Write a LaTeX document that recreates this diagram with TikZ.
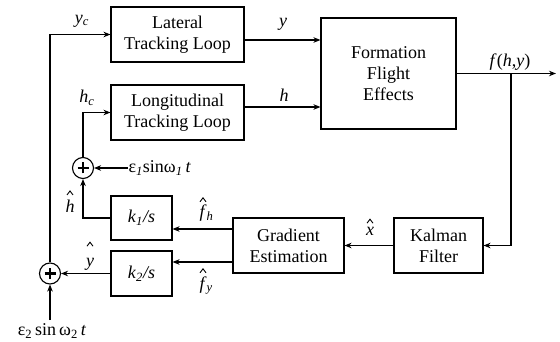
\documentclass[tikz,border=0pt]{standalone}
\usepackage{fontspec}
\setmainfont{Liberation Serif}
\usetikzlibrary{arrows.meta}
\begin{document}
\begin{tikzpicture}[x=1pt,y=-1pt, line width=1.1pt,
  >={Stealth[length=7pt,width=5.5pt]},
  box/.style={draw, align=center, inner sep=0pt, font=\fontsize{18}{21}\selectfont},
  sumnode/.style={draw, circle, minimum size=21pt, inner sep=0pt,
    path picture={\draw[line width=2.4pt]
      ([xshift=-5.5pt]path picture bounding box.center) -- ([xshift=5.5pt]path picture bounding box.center)
      ([yshift=-5.5pt]path picture bounding box.center) -- ([yshift=5.5pt]path picture bounding box.center);}},
  lbl/.style={font=\fontsize{18}{21}\selectfont, inner sep=0pt, align=center},
  hatline/.style={line width=0.9pt, line join=miter}]
\useasboundingbox (0,0) rectangle (560,342);
% blocks
\node[box, minimum width=133pt, minimum height=55pt] (lat) at (177.5,34.5) {Lateral\\Tracking Loop};
\node[box, minimum width=133pt, minimum height=55pt] (lon) at (177.5,112.5) {Longitudinal\\Tracking Loop};
\node[box, minimum width=135pt, minimum height=111pt] (ffe) at (388.5,73.5) {Formation\\Flight\\Effects};
\node[box, minimum width=89pt, minimum height=55pt] (kal) at (438.5,245.5) {Kalman\\Filter};
\node[box, minimum width=111pt, minimum height=55pt] (grad) at (288.5,245.5) {Gradient\\Estimation};
\node[box, minimum width=61pt, minimum height=44pt] (k1) at (141.5,218) {\textit{k}\textsubscript{\textit{1}}\textit{/s}};
\node[box, minimum width=61pt, minimum height=45pt] (k2) at (141.5,273.5) {\textit{k}\textsubscript{\textit{2}}\textit{/s}};
\node[sumnode] (s1) at (83,168) {};
\node[sumnode] (s2) at (50,273.5) {};
% signal labels
\node[lbl] (e1) [anchor=west] at (128,168) {ε\textsubscript{\textit{1}}sinω\textsubscript{\textit{1}}\,\textit{t}};
\node[lbl] (e2) [anchor=north, inner sep=3pt] at (52,320) {ε\textsubscript{2}\,sin\,ω\textsubscript{2}\,\textit{t}};
\node[lbl] (lyc) at (82,21) {\textit{y}\textsubscript{\textit{c}}};
\node[lbl] (lhc) at (87,98) {\textit{h}\textsubscript{\textit{c}}};
\node[lbl] (ly) at (283,24) {\textit{y}};
\node[lbl] (lh) at (284,95) {\textit{h}};
\node[lbl] (lf) at (510,62) {\textit{f}(\textit{h},\textit{y})};
% hatted labels (hat drawn as a small chevron)
\node[lbl, anchor=base] (lx) at (370,235) {\textit{x}};
\node[lbl, anchor=base] (lhh) at (70,212) {\textit{h}};
\node[lbl, anchor=base] (lyh) at (90,266) {\textit{y}};
\node[lbl, anchor=base west] (lfh) at (199,218) {\textit{f}\textsubscript{\textit{h}}};
\node[lbl, anchor=base west] (lfy) at (199,289) {\textit{f}\textsubscript{\textit{y}}};
\draw[hatline] ([xshift=-3pt,yshift=3pt]lx.north) -- ([yshift=7pt]lx.north) -- ([xshift=3pt,yshift=3pt]lx.north);
\draw[hatline] ([xshift=-3pt,yshift=4pt]lhh.north) -- ([yshift=8pt]lhh.north) -- ([xshift=3pt,yshift=4pt]lhh.north);
\draw[hatline] ([xshift=-3pt,yshift=11pt]lyh.north) -- ([yshift=15pt]lyh.north) -- ([xshift=3pt,yshift=11pt]lyh.north);
\draw[hatline] ([xshift=1pt,yshift=3pt]lfh.north west) -- ([xshift=4pt,yshift=7pt]lfh.north west) -- ([xshift=7pt,yshift=3pt]lfh.north west);
\draw[hatline] ([xshift=1pt,yshift=3pt]lfy.north west) -- ([xshift=4pt,yshift=7pt]lfy.north west) -- ([xshift=7pt,yshift=3pt]lfy.north west);
% connectors
\coordinate (fout) at (556,73.5);
\coordinate (br) at (511,73.5);
\draw[->] (s2.north) |- (lat.west);
\draw[->] (s1.north) |- (lon.west);
\draw[->] ([yshift=-5.5pt]lat.east) -- ([yshift=-5.5pt]lat.east -| ffe.west);
\draw[->] ([yshift=5.5pt]lon.east) -- ([yshift=5.5pt]lon.east -| ffe.west);
\draw[->] (ffe.east) -- (fout);
\draw[->] (br) |- (kal.east);
\draw[->] (kal.west) -- (grad.east);
\draw[->] ([yshift=16.5pt]grad.west) -- ([yshift=16.5pt]grad.west -| k1.east);
\draw[->] ([yshift=-16.5pt]grad.west) -- ([yshift=-16.5pt]grad.west -| k2.east);
\draw[->] (k1.west) -| (s1.south);
\draw[->] (k2.west) -- (s2.east);
\draw[->] (e1.west) -- (s1.east);
\draw[->] (e2.north -| s2.south) -- (s2.south);
\end{tikzpicture}
\end{document}
